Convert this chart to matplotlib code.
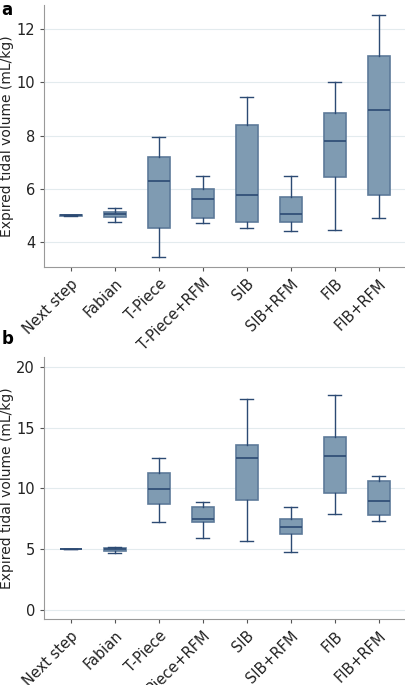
import matplotlib
matplotlib.use("Agg")
import matplotlib.pyplot as plt

categories = ["Next step", "Fabian", "T-Piece", "T-Piece+RFM", "SIB", "SIB+RFM", "FIB", "FIB+RFM"]

# whislo, q1, med, q3, whishi
panel_a = [
    [5.0, 5.0, 5.02, 5.04, 5.04],
    [4.78, 4.95, 5.05, 5.12, 5.3],
    [3.45, 4.55, 6.3, 7.2, 7.93],
    [4.72, 4.93, 5.62, 5.98, 6.47],
    [4.55, 4.78, 5.77, 8.4, 9.43],
    [4.43, 4.77, 5.05, 5.68, 6.5],
    [4.45, 6.43, 7.8, 8.85, 10.02],
    [4.9, 5.77, 8.97, 11.0, 12.53],
]
panel_b = [
    [5.0, 5.0, 5.0, 5.0, 5.0],
    [4.7, 4.85, 5.0, 5.1, 5.15],
    [7.19, 8.68, 9.94, 11.27, 12.48],
    [5.92, 7.25, 7.47, 8.43, 8.9],
    [5.62, 9.04, 12.48, 13.55, 17.38],
    [4.79, 6.2, 6.78, 7.47, 8.43],
    [7.88, 9.64, 12.64, 14.21, 17.69],
    [7.3, 7.82, 8.98, 10.58, 11.05],
]

fill = "#7f9bb2"
edge = "#5d7a99"
line = "#2c4a73"

fig = plt.figure(figsize=(4.05, 6.85), dpi=100)
ax_a = fig.add_axes([0.109, 0.610, 0.891, 0.383])
ax_b = fig.add_axes([0.109, 0.096, 0.891, 0.383])


def draw(ax, data, ylim, ticks):
    stats = [dict(whislo=d[0], q1=d[1], med=d[2], q3=d[3], whishi=d[4], label=c)
             for d, c in zip(data, categories)]
    ax.bxp(stats, positions=range(len(stats)), widths=0.5, showfliers=False,
           patch_artist=True,
           boxprops=dict(facecolor=fill, edgecolor=edge, linewidth=1.2),
           medianprops=dict(color=line, linewidth=1.2),
           whiskerprops=dict(color=line, linewidth=1.0),
           capprops=dict(color=line, linewidth=1.0),
           capwidths=0.3)
    ax.set_xlim(-0.6, 7.6)
    ax.set_ylim(*ylim)
    ax.set_yticks(ticks)
    ax.grid(axis="y", color="#e3ebee", linewidth=0.8)
    ax.set_axisbelow(True)
    for s in ("top", "right"):
        ax.spines[s].set_visible(False)
    for s in ("left", "bottom"):
        ax.spines[s].set_color("#999999")
    ax.tick_params(axis="both", colors="#555555", labelcolor="#222222", labelsize=10.5, length=3)
    ax.set_xticks(range(len(categories)))
    ax.set_xticklabels(categories, rotation=45, ha="right", rotation_mode="anchor")
    ax.set_ylabel("Expired tidal volume (mL/kg)", fontsize=10, color="#222222", labelpad=2)


draw(ax_a, panel_a, (3.07, 12.9), [4, 6, 8, 10, 12])
draw(ax_b, panel_b, (-0.8, 20.85), [0, 5, 10, 15, 20])

fig.text(0.003, 0.985, "a", fontsize=12, fontweight="bold", va="center")
fig.text(0.003, 0.505, "b", fontsize=12, fontweight="bold", va="center")

fig.savefig("out.png", dpi=100)
